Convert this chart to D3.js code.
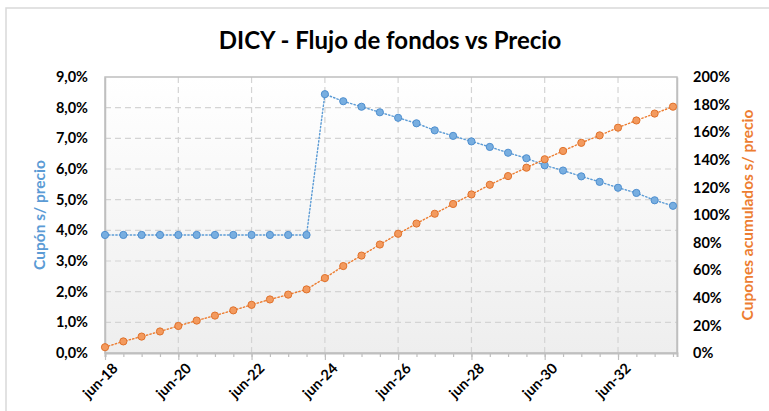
<!DOCTYPE html>
<html>
<head>
<meta charset="utf-8">
<script src="https://cdn.jsdelivr.net/npm/d3@7"></script>
<style>
  html, body { margin: 0; padding: 0; background: #fff; }
  svg { display: block; font-family: Lato, "Open Sans", sans-serif; }
</style>
</head>
<body>
<svg id="chart" width="769" height="411"></svg>
<script>
// semiannual coupon dates
const fechas = [
  "2018-06", "2018-12", "2019-06", "2019-12", "2020-06", "2020-12", "2021-06", "2021-12",
  "2022-06", "2022-12", "2023-06", "2023-12", "2024-06", "2024-12", "2025-06", "2025-12",
  "2026-06", "2026-12", "2027-06", "2027-12", "2028-06", "2028-12", "2029-06", "2029-12",
  "2030-06", "2030-12", "2031-06", "2031-12", "2032-06", "2032-12", "2033-06", "2033-12"
];
// Cupón s/ precio (%)
const cupon = [
  3.85, 3.85, 3.85, 3.85, 3.85, 3.85, 3.85, 3.85,
  3.85, 3.85, 3.85, 3.85, 8.44, 8.21, 8.03, 7.85,
  7.67, 7.49, 7.26, 7.08, 6.90, 6.72, 6.53, 6.35,
  6.12, 5.95, 5.76, 5.58, 5.39, 5.22, 4.98, 4.80
];
// Cupones acumulados s/ precio (%)
const acumulado = [
  4.2, 8.4, 11.9, 15.6, 19.6, 23.5, 27.1, 30.9,
  34.9, 38.8, 42.3, 46.1, 54.3, 63.0, 70.6, 78.6,
  86.4, 93.8, 100.9, 108.0, 114.9, 121.9, 128.2, 134.3,
  140.4, 146.4, 152.3, 157.7, 163.3, 168.5, 173.5, 178.5
];
const ticksIzq = [0, 1, 2, 3, 4, 5, 6, 7, 8, 9];
const ticksDer = [0, 20, 40, 60, 80, 100, 120, 140, 160, 180, 200];
const ticksX = ["2018-06", "2020-06", "2022-06", "2024-06", "2026-06", "2028-06", "2030-06", "2032-06"];

const parse = d3.timeParse("%Y-%m");
const fmtX = d => "jun-" + d3.timeFormat("%y")(d);
const fmtIzq = d => d.toFixed(1).replace(".", ",") + "%";
const fmtDer = d => d + "%";

const AZUL = "#5b9bd5", NARANJA = "#ed7d31";
const plot = { left: 105, right: 677, top: 77, bottom: 353 };

const svg = d3.select("#chart");

// chart frame (only top/left visible in the crop)
svg.append("rect")
  .attr("x", 6).attr("y", 8).attr("width", 900).attr("height", 600)
  .attr("fill", "#fff").attr("stroke", "#d9d9d9").attr("stroke-width", 1.5);

const defs = svg.append("defs");
const grad = defs.append("linearGradient").attr("id", "bg").attr("x1", 0).attr("y1", 0).attr("x2", 0).attr("y2", 1);
grad.append("stop").attr("offset", "0%").attr("stop-color", "#ffffff");
grad.append("stop").attr("offset", "100%").attr("stop-color", "#eeeeee");

const x = d3.scaleTime()
  .domain([parse("2018-06"), new Date(2034, 0, 10)])
  .range([plot.left, plot.right]);
const yL = d3.scaleLinear().domain([0, 9]).range([plot.bottom, plot.top]);
const yR = d3.scaleLinear().domain([0, 200]).range([plot.bottom, plot.top]);

svg.append("rect")
  .attr("x", plot.left).attr("y", plot.top)
  .attr("width", plot.right - plot.left).attr("height", plot.bottom - plot.top)
  .attr("fill", "url(#bg)");

// gridlines
const grid = svg.append("g").attr("stroke", "#d4d4d4").attr("stroke-width", 1.2).attr("stroke-dasharray", "6,4");
grid.selectAll(".h").data(ticksIzq.slice(1, -1)).join("line")
  .attr("x1", plot.left).attr("x2", plot.right)
  .attr("y1", d => yL(d)).attr("y2", d => yL(d));
grid.selectAll(".v").data(ticksX.slice(1).map(parse)).join("line")
  .attr("y1", plot.top).attr("y2", plot.bottom)
  .attr("x1", d => x(d)).attr("x2", d => x(d));

// plot border
svg.append("rect")
  .attr("x", plot.left).attr("y", plot.top)
  .attr("width", plot.right - plot.left).attr("height", plot.bottom - plot.top)
  .attr("fill", "none").attr("stroke", "#bfbfbf").attr("stroke-width", 1.5);

// x axis: minor ticks every semester, labels every two years
const xAxis = svg.append("g").attr("transform", `translate(0,${plot.bottom})`)
  .call(d3.axisBottom(x).tickValues(fechas.map(parse)).tickSize(4).tickFormat(""));
xAxis.select(".domain").attr("stroke", "#bfbfbf").attr("stroke-width", 2);
xAxis.selectAll(".tick line").attr("stroke", "#bfbfbf").attr("stroke-width", 1.2);

const xLab = svg.append("g").attr("transform", `translate(0,${plot.bottom})`)
  .call(d3.axisBottom(x).tickValues(ticksX.map(parse)).tickSize(7).tickFormat(fmtX));
xLab.select(".domain").remove();
xLab.selectAll(".tick line").attr("stroke", "#bfbfbf").attr("stroke-width", 1.2);
xLab.selectAll(".tick text")
  .attr("font-family", "Lato, sans-serif").attr("font-size", 14.5).attr("font-weight", "bold")
  .attr("fill", "#000").attr("text-anchor", "end")
  .attr("transform", "translate(6,9) rotate(-45)")
  .attr("dy", "0.71em").attr("y", 0).attr("x", 0);

// left axis
const axL = svg.append("g").attr("transform", `translate(${plot.left},0)`)
  .call(d3.axisLeft(yL).tickValues(ticksIzq).tickSize(0).tickPadding(17).tickFormat(fmtIzq));
axL.select(".domain").attr("stroke", "#bfbfbf").attr("stroke-width", 1.5);
axL.selectAll(".tick text")
  .attr("font-family", "Lato, sans-serif").attr("font-size", 14.5).attr("font-weight", "bold").attr("fill", "#000");

// right axis
const axR = svg.append("g").attr("transform", `translate(${plot.right},0)`)
  .call(d3.axisRight(yR).tickValues(ticksDer).tickSize(0).tickPadding(16).tickFormat(fmtDer));
axR.select(".domain").attr("stroke", "#bfbfbf").attr("stroke-width", 1.5);
axR.selectAll(".tick text")
  .attr("font-family", "Lato, sans-serif").attr("font-size", 14.5).attr("font-weight", "bold").attr("fill", "#000");

// series
function serie(values, yScale, color, fill, stroke) {
  const pts = fechas.map((f, i) => [x(parse(f)), yScale(values[i])]);
  svg.append("path")
    .attr("d", d3.line()(pts))
    .attr("fill", "none").attr("stroke", color).attr("stroke-width", 1.4)
    .attr("stroke-dasharray", "1.4,2.2").attr("stroke-linecap", "round");
  svg.append("g").selectAll("circle").data(pts).join("circle")
    .attr("cx", d => d[0]).attr("cy", d => d[1]).attr("r", 3.6)
    .attr("fill", fill).attr("stroke", stroke).attr("stroke-width", 1);
}
serie(cupon, yL, AZUL, "#78aee0", "#4f8fcf");
serie(acumulado, yR, NARANJA, "#f39a5e", "#e0722c");

// titles
svg.append("text")
  .attr("x", 390).attr("y", 49).attr("text-anchor", "middle")
  .attr("font-family", "Lato, sans-serif").attr("font-size", 24).attr("font-weight", "bold").attr("fill", "#000")
  .text("DICY - Flujo de fondos vs Precio");

svg.append("text")
  .attr("transform", `translate(45,${(plot.top + plot.bottom) / 2}) rotate(-90)`)
  .attr("text-anchor", "middle")
  .attr("font-family", "Lato, sans-serif").attr("font-size", 15.5).attr("font-weight", "bold").attr("fill", AZUL)
  .text("Cupón  s/ precio");

svg.append("text")
  .attr("transform", `translate(753,${(plot.top + plot.bottom) / 2}) rotate(-90)`)
  .attr("text-anchor", "middle")
  .attr("font-family", "Lato, sans-serif").attr("font-size", 15.5).attr("font-weight", "bold").attr("fill", NARANJA)
  .text("Cupones  acumulados  s/ precio");
</script>
</body>
</html>
